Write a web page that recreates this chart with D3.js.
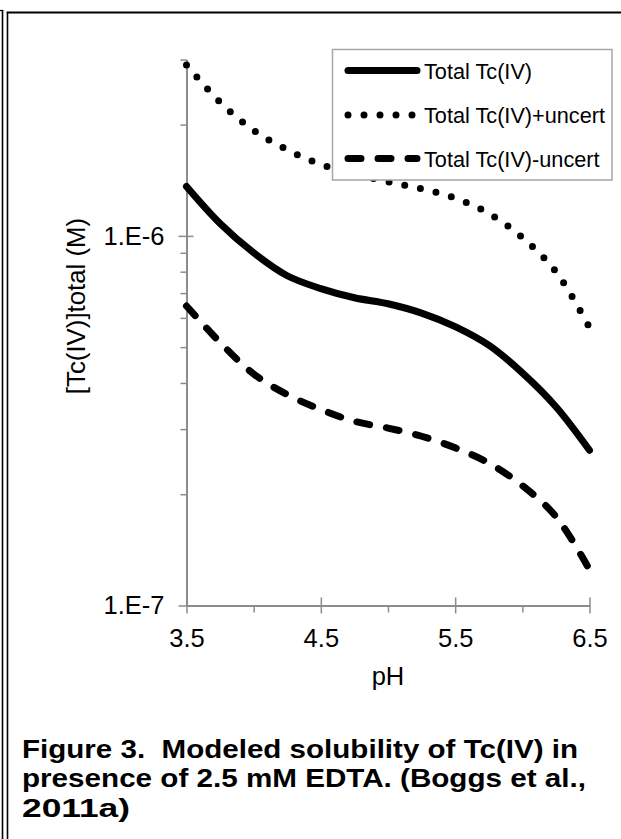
<!DOCTYPE html>
<html>
<head>
<meta charset="utf-8">
<script src="https://cdn.jsdelivr.net/npm/d3@7"></script>
<style>
  html, body { margin: 0; padding: 0; background: #fff; }
  svg { display: block; }
  text { font-family: "Liberation Sans", Arial, sans-serif; fill: #000; white-space: pre; }
</style>
</head>
<body>
<svg id="chart" width="621" height="839"></svg>
<script>
// ---- data ----
const pH = [3.5, 3.75, 4.0, 4.25, 4.5, 4.75, 5.0, 5.25, 5.5, 5.75, 6.0, 6.25, 6.5];
const totalTc = [1.36e-6, 1.08e-6, 9.0e-7, 7.8e-7, 7.2e-7, 6.8e-7, 6.55e-7, 6.18e-7, 5.68e-7, 5.06e-7, 4.26e-7, 3.45e-7, 2.63e-7];
const totalTcPlus = [2.9e-6, 2.3e-6, 1.93e-6, 1.71e-6, 1.56e-6, 1.47e-6, 1.40e-6, 1.34e-6, 1.265e-6, 1.15e-6, 9.9e-7, 8.0e-7, 5.65e-7];
const totalTcMinus = [6.46e-7, 5.15e-7, 4.23e-7, 3.72e-7, 3.39e-7, 3.15e-7, 3.02e-7, 2.87e-7, 2.67e-7, 2.43e-7, 2.11e-7, 1.74e-7, 1.25e-7];
const seriesNames = ["Total Tc(IV)", "Total Tc(IV)+uncert", "Total Tc(IV)-uncert"];
const xMajorTicks = [3.5, 4.5, 5.5, 6.5];
const xMinorTicks = [4.0, 5.0, 6.0];
const yMajorTicks = [1e-7, 1e-6];
const yMinorTicks = [2e-7, 3e-7, 4e-7, 5e-7, 6e-7, 7e-7, 8e-7, 9e-7, 2e-6, 3e-6];
const xTitle = "pH";
const yTitle = "[Tc(IV)]total (M)";
const captionLines = ["Figure 3.  Modeled solubility of Tc(IV) in",
                      "presence of 2.5 mM EDTA. (Boggs et al.,",
                      "2011a)"];
const captionWidths = [556, 564, 108];

const svg = d3.select("#chart");
const axisColor = "#8c8c8c";
const tickFont = 25.5;

// page borders (document frame)
svg.append("line").attr("x1", 2.5).attr("x2", 2.5).attr("y1", 10).attr("y2", 839)
   .attr("stroke", "#000").attr("stroke-width", 1.6);
svg.append("line").attr("x1", 0).attr("x2", 3.3).attr("y1", 10.5).attr("y2", 10.5)
   .attr("stroke", "#000").attr("stroke-width", 1.2);
svg.append("line").attr("x1", 7.5).attr("x2", 7.5).attr("y1", 12).attr("y2", 839)
   .attr("stroke", "#000").attr("stroke-width", 1.6);
svg.append("line").attr("x1", 6.7).attr("x2", 621).attr("y1", 12.5).attr("y2", 12.5)
   .attr("stroke", "#000").attr("stroke-width", 1.8);

// scales
const x = d3.scaleLinear().domain([3.5, 6.5]).range([186.5, 589.5]);
const y = d3.scaleLog().domain([1e-7, 3e-6]).range([605.5, 59.5]);

// y axis: minor ticks
const gyMin = svg.append("g").attr("transform", `translate(${x(3.5)},0)`)
  .call(d3.axisLeft(y).tickValues(yMinorTicks).tickSize(6).tickFormat(""));
gyMin.select(".domain").remove();
gyMin.selectAll("line").attr("stroke", axisColor).attr("stroke-width", 1.5);

// y axis: major ticks + domain
const gy = svg.append("g").attr("transform", `translate(${x(3.5)},0)`)
  .call(d3.axisLeft(y).tickValues(yMajorTicks).tickSize(8).tickSizeOuter(0).tickPadding(14)
        .tickFormat(d => "1.E" + Math.round(Math.log10(d))));
gy.select(".domain").attr("stroke", axisColor).attr("stroke-width", 2);
gy.selectAll(".tick line").attr("x1", 7).attr("stroke", axisColor).attr("stroke-width", 1.5);
gy.selectAll(".tick text").attr("font-size", tickFont).attr("font-family", "Liberation Sans, Arial, sans-serif").attr("fill", "#000");

// x axis: minor ticks
const gxMin = svg.append("g").attr("transform", `translate(0,${y(1e-7)})`)
  .call(d3.axisBottom(x).tickValues(xMinorTicks).tickSize(7).tickFormat(""));
gxMin.select(".domain").remove();
gxMin.selectAll("line").attr("stroke", axisColor).attr("stroke-width", 1.5);

// x axis: major ticks + domain
const gx = svg.append("g").attr("transform", `translate(0,${y(1e-7)})`)
  .call(d3.axisBottom(x).tickValues(xMajorTicks).tickSize(8).tickSizeOuter(0).tickPadding(15)
        .tickFormat(d3.format(".1f")));
gx.select(".domain").attr("stroke", axisColor).attr("stroke-width", 2);
gx.selectAll(".tick line").attr("y1", -8).attr("stroke", axisColor).attr("stroke-width", 1.5);
gx.selectAll(".tick text").attr("font-size", tickFont).attr("font-family", "Liberation Sans, Arial, sans-serif").attr("fill", "#000");

// axis titles
svg.append("text").attr("x", 388).attr("y", 685).attr("text-anchor", "middle")
  .attr("font-size", tickFont).text(xTitle);
svg.append("text").attr("transform", "translate(85,306) rotate(-90)").attr("text-anchor", "middle")
  .attr("font-size", 25.8).text(yTitle);

// series
const styles = [
  { data: totalTc, dash: null },
  { data: totalTcPlus, dash: "0 16" },
  { data: totalTcMinus, dash: "13 17" }
];
const line = d3.line().x((d, i) => x(pH[i])).y(d => y(d)).curve(d3.curveCatmullRom.alpha(0.5));
const plot = svg.append("g");
styles.forEach(s => {
  plot.append("path").datum(s.data)
    .attr("d", line)
    .attr("fill", "none")
    .attr("stroke", "#000")
    .attr("stroke-width", 7)
    .attr("stroke-linecap", "round")
    .attr("stroke-linejoin", "round")
    .attr("stroke-dasharray", s.dash);
});

// legend
const lg = svg.append("g");
lg.append("rect").attr("x", 332.5).attr("y", 49.5).attr("width", 279.5).attr("height", 130.5)
  .attr("fill", "#fff").attr("stroke", "#a6a6a6").attr("stroke-width", 1.5);
const rowY = [70.5, 115, 158.5];
seriesNames.forEach((name, i) => {
  lg.append("line").attr("x1", 348).attr("x2", 417).attr("y1", rowY[i]).attr("y2", rowY[i])
    .attr("stroke", "#000").attr("stroke-width", 7).attr("stroke-linecap", "round")
    .attr("stroke-dasharray", styles[i].dash);
  lg.append("text").attr("x", 424).attr("y", rowY[i] + 8).attr("font-size", 21.7).text(name);
});

// caption
captionLines.forEach((t, i) => {
  svg.append("text").attr("x", 22).attr("y", 757.5 + i * 29.5)
    .attr("font-size", 26).attr("font-weight", "bold")
    .attr("textLength", captionWidths[i]).attr("lengthAdjust", "spacingAndGlyphs")
    .text(t);
});
</script>
</body>
</html>
